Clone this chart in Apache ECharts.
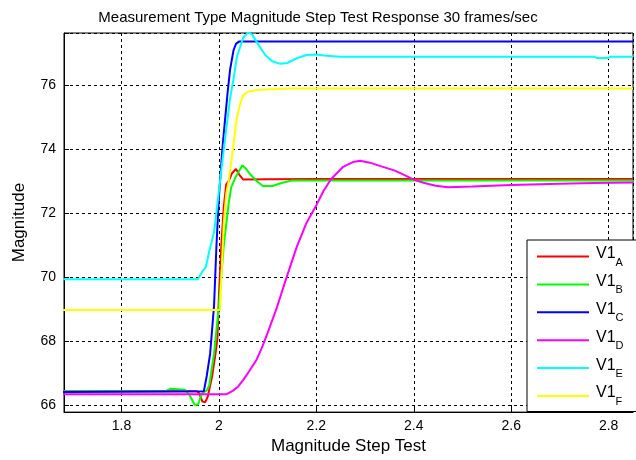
<!DOCTYPE html>
<html>
<head>
<meta charset="utf-8">
<script src="https://cdn.jsdelivr.net/npm/echarts@6/dist/echarts.min.js"></script>
<style>html,body{margin:0;padding:0;background:#fff;}#c{width:636px;height:460px;}</style>
</head>
<body>
<div id="c"></div>
<script>
// ---- data (time in s, magnitude) ----
const seriesNames = ['V1A', 'V1B', 'V1C', 'V1D', 'V1E', 'V1F'];
const xTicks = [1.8, 2.0, 2.2, 2.4, 2.6, 2.8];
const yTicks = [66, 68, 70, 72, 74, 76];

const v1A = [[1.68,66.42],[1.955,66.42],[1.96,66.35],[1.966,66.1],[1.972,66.08],[1.977,66.25],[1.986,66.88],[1.993,67.6],[1.997,68.1],[2.0,69.4],[2.005,71.0],[2.01,72.2],[2.015,72.9],[2.02,73.0],[2.027,73.25],[2.035,73.38],[2.042,73.2],[2.05,73.05],[2.1,73.06],[2.2,73.07],[2.5,73.07],[2.85,73.07]];
const v1B = [[1.68,66.42],[1.89,66.42],[1.9,66.5],[1.93,66.47],[1.94,66.3],[1.95,66.0],[1.957,66.0],[1.965,66.35],[1.975,66.45],[1.98,66.6],[1.99,67.6],[2.0,69.1],[2.01,71.0],[2.02,72.3],[2.025,72.8],[2.035,73.15],[2.048,73.5],[2.055,73.4],[2.065,73.2],[2.078,73.0],[2.09,72.85],[2.11,72.85],[2.13,72.95],[2.15,73.02],[2.5,73.02],[2.85,73.02]];
const v1C = [[1.68,66.4],[1.969,66.42],[1.975,66.9],[1.982,67.6],[1.99,69.1],[1.995,71.0],[2.0,72.5],[2.007,74.0],[2.013,75.0],[2.018,75.8],[2.023,76.5],[2.03,77.1],[2.035,77.3],[2.041,77.37],[2.2,77.37],[2.5,77.37],[2.85,77.37]];
const v1D = [[1.68,66.33],[2.016,66.33],[2.03,66.45],[2.04,66.58],[2.05,66.78],[2.06,67.0],[2.077,67.4],[2.09,67.85],[2.1,68.25],[2.118,69.0],[2.138,69.95],[2.16,70.95],[2.18,71.7],[2.2,72.25],[2.215,72.7],[2.23,73.06],[2.255,73.45],[2.275,73.6],[2.29,73.64],[2.31,73.58],[2.33,73.48],[2.36,73.34],[2.38,73.2],[2.4,73.05],[2.42,72.95],[2.445,72.86],[2.47,72.81],[2.52,72.83],[2.6,72.88],[2.7,72.92],[2.77,72.94],[2.85,72.96]];
const v1E = [[1.68,69.93],[1.957,69.93],[1.965,70.15],[1.973,70.3],[1.98,70.8],[1.99,71.4],[2.0,72.7],[2.01,74.0],[2.023,75.6],[2.03,76.2],[2.037,76.9],[2.05,77.5],[2.06,77.66],[2.068,77.6],[2.08,77.3],[2.095,76.95],[2.11,76.75],[2.125,76.68],[2.14,76.7],[2.16,76.85],[2.18,76.95],[2.2,76.97],[2.22,76.93],[2.25,76.9],[2.4,76.9],[2.6,76.9],[2.77,76.9],[2.775,76.86],[2.8,76.86],[2.805,76.9],[2.85,76.9]];
const v1F = [[1.68,68.97],[2.002,68.97],[2.006,70.3],[2.01,71.7],[2.015,72.6],[2.02,73.0],[2.027,73.8],[2.037,75.0],[2.045,75.5],[2.05,75.7],[2.06,75.8],[2.08,75.86],[2.15,75.9],[2.5,75.9],[2.85,75.9]];

const seriesData = [v1A, v1B, v1C, v1D, v1E, v1F];
const seriesColors = ['#ff0000', '#00ff00', '#0000ff', '#ff00ff', '#00ffff', '#ffff00'];

const FONT = '"Liberation Sans", Arial, sans-serif';
function onTick(v, ticks) { return ticks.some(t => Math.abs(t - v) < 1e-6); }

const chart = echarts.init(document.getElementById('c'), null, {renderer: 'canvas'});
chart.setOption({
  animation: false,
  backgroundColor: '#fff',
  title: {
    text: 'Measurement Type Magnitude Step Test Response 30 frames/sec',
    left: 'center', top: 5,
    textStyle: {fontFamily: FONT, fontSize: 15, fontWeight: 'normal', color: '#000'}
  },
  grid: {left: 64, right: -6, top: 33, bottom: 41, show: true, borderColor: '#000', borderWidth: 1, backgroundColor: '#fff'},
  xAxis: {
    type: 'value', min: 1.682, max: 2.85,
    name: 'Magnitude Step Test', nameLocation: 'middle', nameGap: 24,
    nameTextStyle: {fontFamily: FONT, fontSize: 17, color: '#000'},
    axisLine: {lineStyle: {color: '#000', width: 1}},
    axisTick: {inside: true, length: 5, lineStyle: {color: '#000'}},
    axisLabel: {fontFamily: FONT, fontSize: 14, color: '#000', margin: 7,
      formatter: v => onTick(v, xTicks) ? String(+v.toFixed(1)) : ''},
    splitLine: {show: true, lineStyle: {color: '#000', type: [3, 3], width: 1}}
  },
  yAxis: {
    type: 'value', min: 65.77, max: 77.64,
    name: 'Magnitude', nameLocation: 'middle', nameGap: 36, nameRotate: 90,
    nameTextStyle: {fontFamily: FONT, fontSize: 17, color: '#000'},
    axisLine: {show: true, lineStyle: {color: '#000', width: 1}},
    axisTick: {show: true, inside: true, length: 5, lineStyle: {color: '#000'}},
    axisLabel: {fontFamily: FONT, fontSize: 14, color: '#000', margin: 8,
      formatter: v => onTick(v, yTicks) ? String(Math.round(v)) : ''},
    splitLine: {show: true, lineStyle: {color: '#000', type: [3, 3], width: 1}}
  },
  legend: {
    orient: 'vertical', left: 527, top: 240,
    backgroundColor: '#fff', borderColor: '#000', borderWidth: 1,
    padding: [5, 14, 4, 10],
    itemWidth: 52, itemHeight: 2, itemGap: 4.9, icon: 'rect',
    data: seriesNames,
    formatter: n => '{m|' + n.slice(0, 2) + '}{s|' + n.slice(2) + '}',
    textStyle: {
      fontFamily: FONT, color: '#000', padding: [0, 0, 0, 2],
      rich: {
        m: {fontFamily: FONT, fontSize: 16, color: '#000', lineHeight: 16, padding: [0, 0, 6, 0]},
        s: {fontFamily: FONT, fontSize: 11, color: '#000', lineHeight: 10, padding: [12, 0, 0, 0]}
      }
    }
  },
  series: seriesNames.map((n, i) => ({
    name: n, type: 'line', data: seriesData[i], showSymbol: false, symbol: 'none',
    itemStyle: {color: seriesColors[i]},
    lineStyle: {color: seriesColors[i], width: 2},
    clip: true
  }))
});
</script>
</body>
</html>
